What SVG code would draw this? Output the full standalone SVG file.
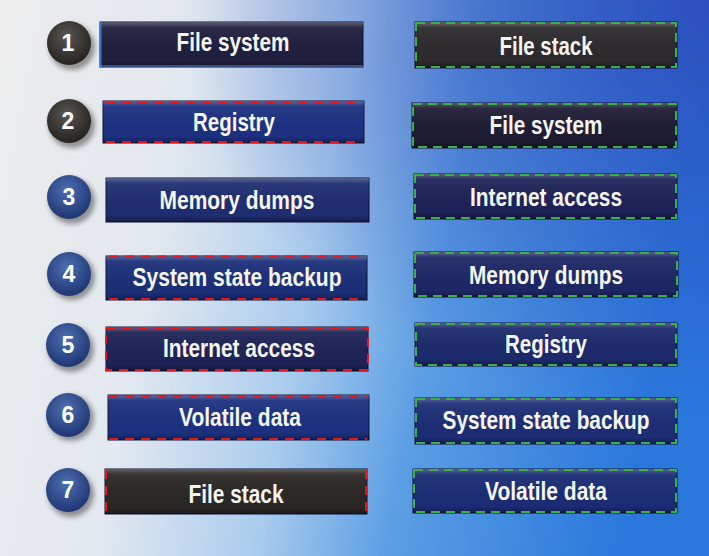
<svg xmlns="http://www.w3.org/2000/svg" width="709" height="556" viewBox="0 0 709 556">
<defs>
<linearGradient id="bg" x1="0" y1="0" x2="1" y2="0.15">
<stop offset="0" stop-color="#ececec"/>
<stop offset="0.28" stop-color="#e2e8ef"/>
<stop offset="0.5" stop-color="#a9cbed"/>
<stop offset="0.68" stop-color="#5b9ee4"/>
<stop offset="1" stop-color="#2a78dc"/>
</linearGradient>
<radialGradient id="tr" cx="1" cy="0" r="0.75">
<stop offset="0" stop-color="#2b47b8" stop-opacity="0.85"/>
<stop offset="1" stop-color="#2b47b8" stop-opacity="0"/>
</radialGradient>
<radialGradient id="cg" cx="0.45" cy="0.35" r="0.65">
<stop offset="0" stop-color="#5a5652"/>
<stop offset="1" stop-color="#25221f"/>
</radialGradient>
<radialGradient id="cb" cx="0.45" cy="0.35" r="0.65">
<stop offset="0" stop-color="#4d6fb0"/>
<stop offset="1" stop-color="#1f3574"/>
</radialGradient>
<linearGradient id="sheen" x1="0" y1="0" x2="0" y2="1">
<stop offset="0" stop-color="#ffffff" stop-opacity="0.28"/>
<stop offset="0.12" stop-color="#ffffff" stop-opacity="0.06"/>
<stop offset="0.85" stop-color="#000000" stop-opacity="0"/>
<stop offset="1" stop-color="#000000" stop-opacity="0.35"/>
</linearGradient>
<filter id="sh" x="-30%" y="-30%" width="160%" height="160%">
<feGaussianBlur stdDeviation="2.5"/>
</filter>
</defs>
<style>
.box{stroke:#0d1130;stroke-width:1}
.lbl{font-family:"Liberation Sans Narrow","Liberation Sans","Arial",sans-serif;font-weight:bold;font-size:25px;fill:#f4f4f0;text-anchor:middle}
.num{font-family:"Liberation Sans","Arial",sans-serif;font-weight:bold;font-size:23px;fill:#ffffff;text-anchor:middle}
.red{fill:none;stroke:#e8141c;stroke-width:2;stroke-dasharray:9 7}
.grn{fill:none;stroke:#3fae47;stroke-width:2;stroke-dasharray:9 6}
.csh{fill:#222;opacity:0.45;filter:url(#sh)}
</style>
<rect width="709" height="556" fill="url(#bg)"/>
<rect width="709" height="556" fill="url(#tr)"/>
<g id="connectors"/>
<!-- number circles -->
<g id="n1"><circle class="csh" cx="72" cy="47" r="23"/><circle cx="69" cy="43" r="22" fill="url(#cg)"/><text class="num" x="68" y="51">1</text></g>
<g id="n2"><circle class="csh" cx="72" cy="125" r="23"/><circle cx="69" cy="121" r="22" fill="url(#cg)"/><text class="num" x="68" y="129">2</text></g>
<g id="n3"><circle class="csh" cx="72" cy="201" r="23"/><circle cx="69" cy="197" r="22" fill="url(#cb)"/><text class="num" x="69" y="205">3</text></g>
<g id="n4"><circle class="csh" cx="72" cy="277" r="23"/><circle cx="69" cy="274" r="22" fill="url(#cb)"/><text class="num" x="69" y="282">4</text></g>
<g id="n5"><circle class="csh" cx="71" cy="349" r="23"/><circle cx="68" cy="345" r="22" fill="url(#cb)"/><text class="num" x="68" y="353">5</text></g>
<g id="n6"><circle class="csh" cx="71" cy="418" r="23"/><circle cx="68" cy="415" r="22" fill="url(#cb)"/><text class="num" x="68" y="423">6</text></g>
<g id="n7"><circle class="csh" cx="71" cy="494" r="23"/><circle cx="68" cy="490" r="22" fill="url(#cb)"/><text class="num" x="68" y="498">7</text></g>
<!-- left column -->
<g id="L1"><rect class="box" x="100" y="22" width="263" height="45" fill="#1f1f3e"/><rect x="100" y="22" width="263" height="45" fill="url(#sheen)"/><line x1="100.5" y1="22" x2="100.5" y2="67" stroke="#3f74d8" stroke-width="2"/><line x1="101" y1="66" x2="363" y2="66" stroke="#5d8fe0" stroke-width="1"/><text class="lbl" x="233" y="51" textLength="113" lengthAdjust="spacingAndGlyphs">File system</text></g>
<g id="L2"><rect class="box" x="103" y="101" width="261" height="42" fill="#1c3080"/><rect x="103" y="101" width="261" height="42" fill="url(#sheen)"/><line class="red" x1="106" y1="102.5" x2="362" y2="102.5"/><line class="red" x1="106" y1="142" x2="362" y2="142"/><text class="lbl" x="234" y="131" textLength="82" lengthAdjust="spacingAndGlyphs">Registry</text></g>
<g id="L3"><rect class="box" x="106" y="178" width="263" height="44" fill="#1e2d70"/><rect x="106" y="178" width="263" height="44" fill="url(#sheen)"/><text class="lbl" x="237" y="209" textLength="155" lengthAdjust="spacingAndGlyphs">Memory dumps</text></g>
<g id="L4"><rect class="box" x="106" y="256" width="261" height="44" fill="#1b2f78"/><rect x="106" y="256" width="261" height="44" fill="url(#sheen)"/><line class="red" x1="109" y1="256.5" x2="365" y2="256.5"/><line class="red" x1="109" y1="299" x2="365" y2="299"/><text class="lbl" x="237" y="286" textLength="209" lengthAdjust="spacingAndGlyphs">System state backup</text></g>
<g id="L5"><rect class="box" x="106" y="327" width="262" height="44" fill="#1e2256"/><rect x="106" y="327" width="262" height="44" fill="url(#sheen)"/><rect class="red" x="106" y="328" width="262" height="42"/><text class="lbl" x="239" y="357" textLength="152" lengthAdjust="spacingAndGlyphs">Internet access</text></g>
<g id="L6"><rect class="box" x="108" y="395" width="261" height="45" fill="#1c3080"/><rect x="108" y="395" width="261" height="45" fill="url(#sheen)"/><line class="red" x1="109" y1="396" x2="367" y2="396"/><line class="red" x1="109" y1="439" x2="367" y2="439"/><text class="lbl" x="240" y="426" textLength="122" lengthAdjust="spacingAndGlyphs">Volatile data</text></g>
<g id="L7"><rect class="box" x="105" y="469" width="262" height="45" fill="#2b2725"/><rect x="105" y="469" width="262" height="45" fill="url(#sheen)"/><line class="red" x1="106" y1="470" x2="106" y2="514"/><line class="red" x1="366" y1="470" x2="366" y2="514"/><text class="lbl" x="236" y="503" textLength="95" lengthAdjust="spacingAndGlyphs">File stack</text></g>
<!-- right column -->
<g id="R1"><rect class="box" x="415" y="22" width="262" height="46" fill="#2c2a2c"/><rect x="415" y="22" width="262" height="46" fill="url(#sheen)"/><rect class="grn" x="416" y="23" width="260" height="44"/><text class="lbl" x="546" y="55" textLength="93" lengthAdjust="spacingAndGlyphs">File stack</text></g>
<g id="R2"><rect class="box" x="412" y="103" width="265" height="45" fill="#1d1c33"/><rect x="412" y="103" width="265" height="45" fill="url(#sheen)"/><rect class="grn" x="413" y="104" width="263" height="43"/><text class="lbl" x="546" y="134" textLength="113" lengthAdjust="spacingAndGlyphs">File system</text></g>
<g id="R3"><rect class="box" x="414" y="174" width="263" height="45" fill="#1e2257"/><rect x="414" y="174" width="263" height="45" fill="url(#sheen)"/><rect class="grn" x="415" y="175" width="261" height="43"/><text class="lbl" x="546" y="206" textLength="152" lengthAdjust="spacingAndGlyphs">Internet access</text></g>
<g id="R4"><rect class="box" x="414" y="252" width="264" height="45" fill="#1d2765"/><rect x="414" y="252" width="264" height="45" fill="url(#sheen)"/><rect class="grn" x="415" y="253" width="262" height="43"/><text class="lbl" x="546" y="284" textLength="154" lengthAdjust="spacingAndGlyphs">Memory dumps</text></g>
<g id="R5"><rect class="box" x="415" y="323" width="262" height="43" fill="#1c2a6c"/><rect x="415" y="323" width="262" height="43" fill="url(#sheen)"/><rect class="grn" x="416" y="324" width="260" height="41"/><text class="lbl" x="546" y="353" textLength="82" lengthAdjust="spacingAndGlyphs">Registry</text></g>
<g id="R6"><rect class="box" x="415" y="398" width="262" height="46" fill="#1c2d75"/><rect x="415" y="398" width="262" height="46" fill="url(#sheen)"/><rect class="grn" x="416" y="399" width="260" height="44"/><text class="lbl" x="546" y="429" textLength="207" lengthAdjust="spacingAndGlyphs">System state backup</text></g>
<g id="R7"><rect class="box" x="413" y="469" width="264" height="44" fill="#1b2c74"/><rect x="413" y="469" width="264" height="44" fill="url(#sheen)"/><rect class="grn" x="414" y="470" width="262" height="42"/><text class="lbl" x="546" y="500" textLength="122" lengthAdjust="spacingAndGlyphs">Volatile data</text></g>
</svg>
